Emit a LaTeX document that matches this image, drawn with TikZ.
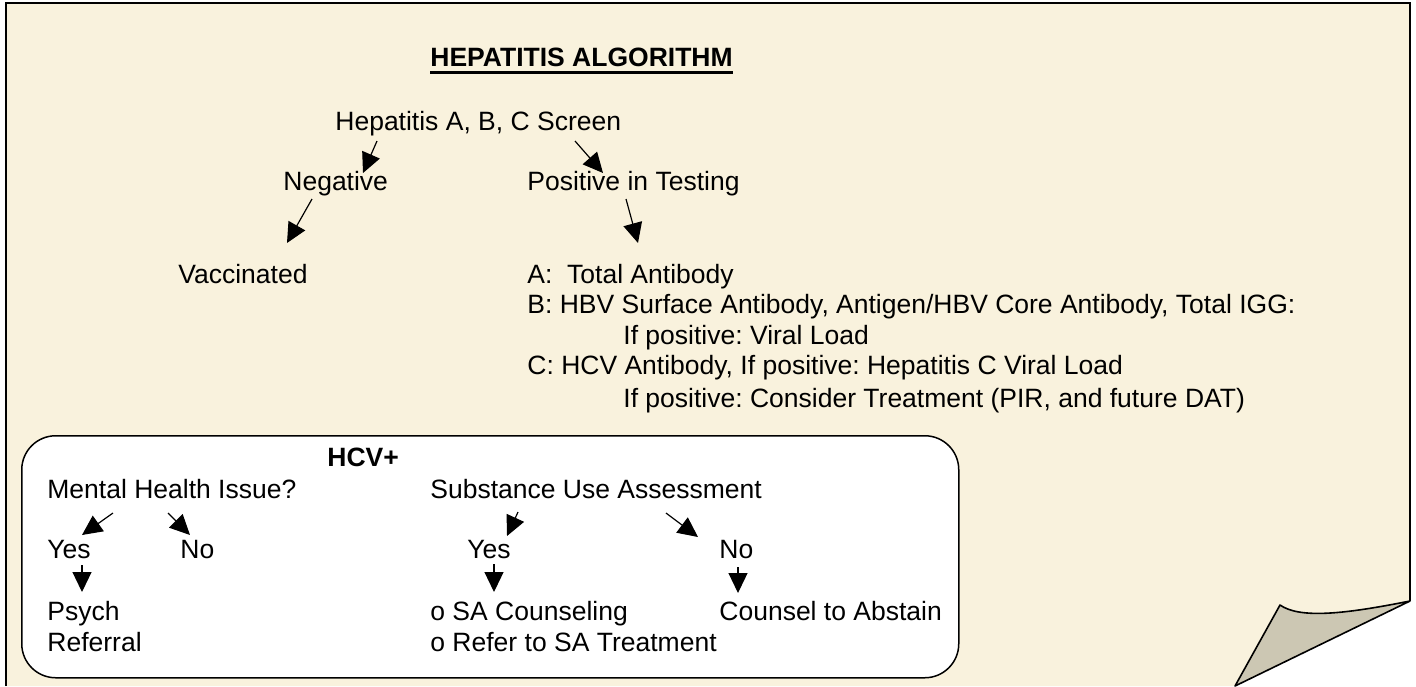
\documentclass[tikz,border=0pt]{standalone}
\usepackage{fontspec}
\setmainfont{Liberation Sans}
\usetikzlibrary{positioning, calc, arrows.meta}
\definecolor{paper}{RGB}{249,242,221}
\definecolor{fold}{RGB}{204,199,179}
\frenchspacing

\begin{document}
\begin{tikzpicture}[x=0.5pt, y=-0.5pt,
        txt/.style={inner sep=0pt, anchor=base west, text height=10pt, text depth=3pt, font=\fontsize{13.25}{15}\selectfont},
        head/.style={txt, font=\fontsize{13.25}{15}\selectfont\bfseries},
        arr/.style={-{Triangle[length=10pt, width=9.5pt]}, line width=0.6pt}]
        \useasboundingbox (0,0) rectangle (1416,686);

        % the sheet with its curled corner
        \fill[paper] (6,686) -- (6,3) -- (1410,3) -- (1410,601) .. controls (1345,614) and (1300,619) .. (1280,605) -- (1235,686) -- cycle;
        \draw[line width=1.2pt] (6,686) -- (6,3) -- (1410,3) -- (1410,601);
        \draw[fill=fold, line width=0.8pt, line join=round] (1410,601) .. controls (1345,614) and (1300,619) .. (1280,605) -- (1235,686) -- cycle;

        \node[head]                                               (title)   at (430,66)  {HEPATITIS ALGORITHM};
        \draw[line width=1.5pt] ($(title.base west)+(0,6)$) -- ($(title.base east)+(0,6)$);
        \node[txt]                                                (screen)  at (335,130) {Hepatitis A, B, C Screen};
        \node[txt]                                                (neg)     at (283,190) {Negative};
        \node[txt]                                                (pos)     at (527,190) {Positive in Testing};
        \node[txt]                                                (vacc)    at (178,283) {Vaccinated};
        \node[txt]                                                (lineA)   at (527,283) {A:\ \ Total Antibody};
        \node[txt, below=2pt of lineA.south west, anchor=north west]              (lineB)  {B: HBV Surface Antibody, Antigen/HBV Core Antibody, Total IGG:};
        \node[txt, below=2pt of lineB.south west, anchor=north west, xshift=48pt] (lineB2) {If positive: Viral Load};
        \node[txt, below=17pt of lineB.south west, anchor=north west]             (lineC)  {C: HCV Antibody, If positive: Hepatitis C Viral Load};
        \node[txt, below=3pt of lineC.south west, anchor=north west, xshift=48pt] (lineC2) {If positive: Consider Treatment (PIR, and future DAT)};

        % HCV+ panel
        \node[draw, fill=white, line width=0.75pt, rounded corners=17pt, inner sep=0pt, anchor=north west,
              minimum width=468.5pt, minimum height=121pt]        (hcvbox)  at (21,435)  {};
        \node[head]                                               (hcv)     at (327,466) {HCV+};
        \node[txt]                                                (mental)  at (47,498)  {Mental Health Issue?};
        \node[txt]                                                (yes1)    at (47,558)  {Yes};
        \node[txt]                                                (no1)     at (180,558) {No};
        \node[txt]                                                (psych)   at (47,620)  {Psych};
        \node[txt, below=2.5pt of psych.south west, anchor=north west]            (referral) {Referral};
        \node[txt]                                                (subst)   at (430,498) {Substance Use Assessment};
        \node[txt]                                                (yes2)    at (467,558) {Yes};
        \node[txt]                                                (no2)     at (719,558) {No};
        \node[txt]                                                (sa1)     at (430,620) {o SA Counseling};
        \node[txt, below=2.5pt of sa1.south west, anchor=north west]              (sa2)    {o Refer to SA Treatment};
        \node[txt]                                                (counsel) at (719,620) {Counsel to Abstain};

        \draw[arr] ($(screen.base west)+(42,11)$)  -- ($(neg.base west)+(80,-17)$);
        \draw[arr] ($(screen.base west)+(240,11)$) -- ($(pos.base west)+(76,-17)$);
        \draw[arr] ($(neg.base west)+(29,9)$)      -- ($(vacc.base west)+(109,-40)$);
        \draw[arr] ($(pos.base west)+(99,9)$)      -- ($(lineA.base west)+(111,-40)$);
        \draw[arr] ($(mental.base west)+(66,15)$)  -- ($(yes1.base west)+(35,-23)$);
        \draw[arr] ($(mental.base west)+(121,15)$) -- ($(no1.base west)+(10,-23)$);
        \draw[arr] ($(yes1.base west)+(35,7)$)     -- ($(psych.base west)+(35,-28)$);
        \draw[arr] ($(subst.base west)+(88,14)$)   -- ($(yes2.base west)+(40,-22)$);
        \draw[arr] ($(subst.base west)+(236,15)$)  -- ($(no2.base west)+(-21,-21)$);
        \draw[arr] ($(yes2.base west)+(27,6)$)     -- ($(sa1.base west)+(64,-28)$);
        \draw[arr] ($(no2.base west)+(19,9)$)      -- ($(counsel.base west)+(19,-27)$);
    \end{tikzpicture}
\end{document}
